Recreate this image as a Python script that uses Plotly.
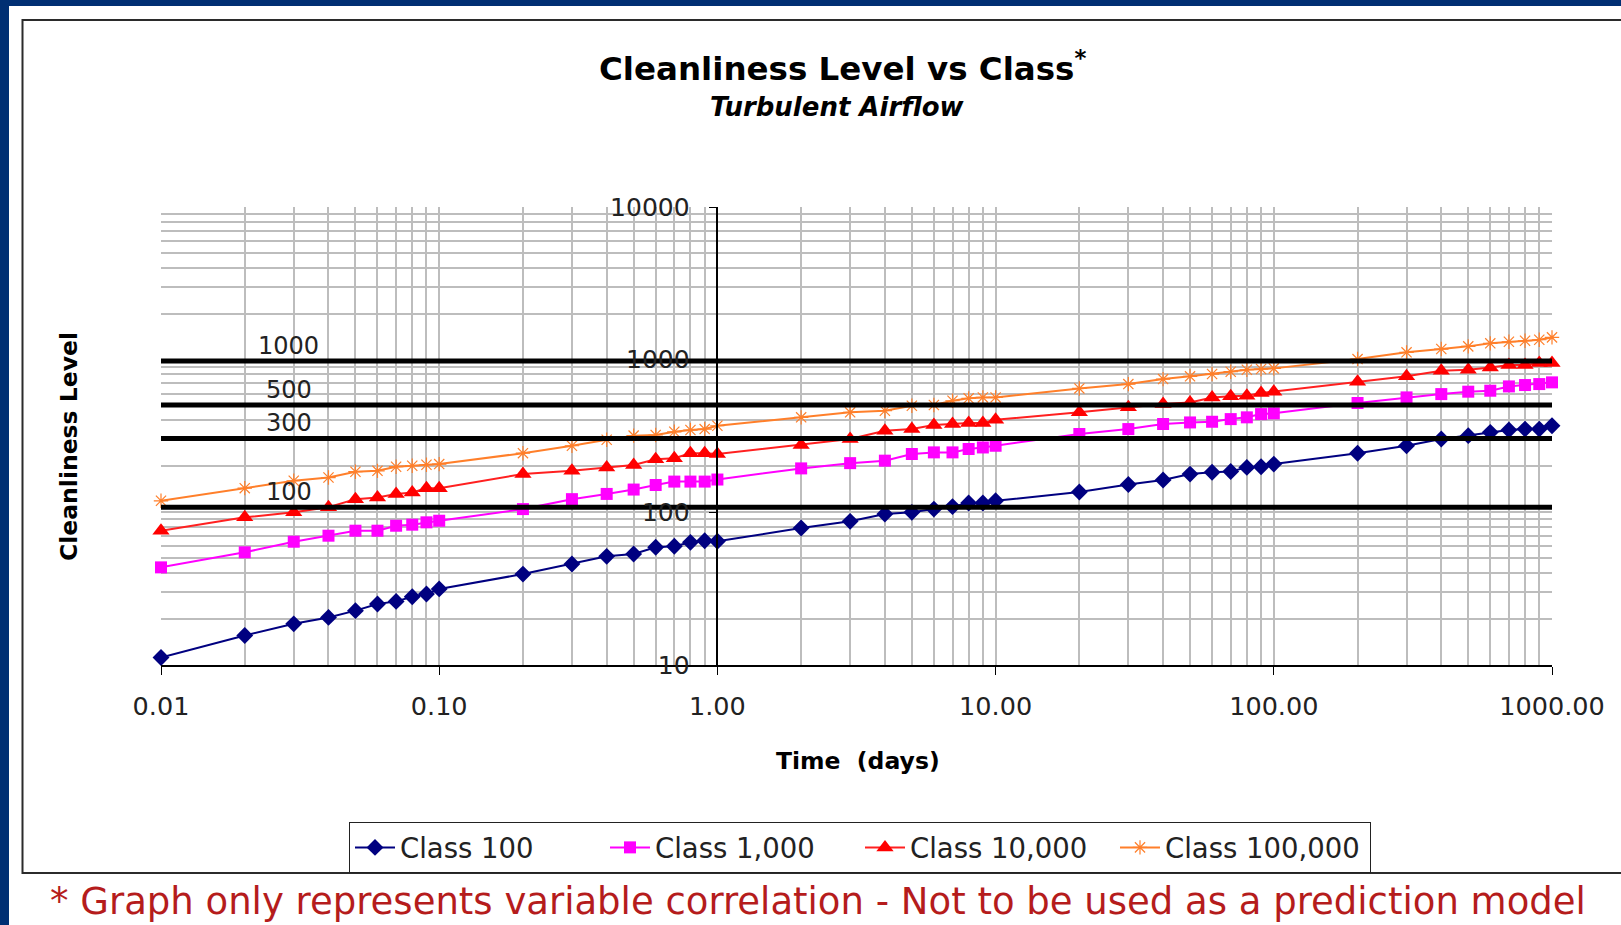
import numpy as np
import plotly.graph_objects as go

# ---------------- data ----------------
time_days = [0.01, 0.02, 0.03, 0.04, 0.05, 0.06, 0.07, 0.08, 0.09,
             0.1, 0.2, 0.3, 0.4, 0.5, 0.6, 0.7, 0.8, 0.9,
             1, 2, 3, 4, 5, 6, 7, 8, 9,
             10, 20, 30, 40, 50, 60, 70, 80, 90,
             100, 200, 300, 400, 500, 600, 700, 800, 900, 1000]

class_100 = [11.2, 15.6, 18.6, 20.5, 22.7, 25.1, 26.1, 28.0, 29.2,
             31.5, 39.4, 45.9, 51.5, 53.3, 59.0, 59.9, 63.6, 65.2,
             64.6, 78.9, 87.3, 97.5, 100, 105, 109, 115, 115,
             119, 136, 152, 163, 178, 183, 185, 197, 199,
             207, 244, 273, 302, 318, 334, 346, 351, 351, 369]

class_1000 = [43.6, 54.7, 64.2, 70.3, 75.8, 75.8, 81.7, 83.0, 86.0,
              88.1, 105, 122, 132, 141, 151, 159, 159, 159,
              164, 194, 210, 218, 241, 247, 247, 260, 266,
              273, 326, 351, 379, 388, 392, 408, 419, 440,
              445, 520, 566, 595, 617, 626, 668, 682, 692, 710]

class_10000 = [75.8, 92.7, 100, 108, 122, 125, 132, 135, 144,
               144, 178, 187, 197, 204, 223, 226, 244, 244,
               241, 276, 302, 342, 351, 373, 379, 385, 385,
               404, 452, 487, 512, 525, 566, 575, 581, 604,
               617, 717, 778, 846, 859, 890, 922, 922, 950, 950]

class_100000 = [119, 144, 161, 169, 184.5, 187, 199, 202, 205,
                207, 244, 273, 299, 318, 321, 337, 346, 351,
                369, 419, 452, 463, 499, 505, 538, 558, 566,
                566, 648, 692, 746, 778, 805, 834, 859, 868,
                877, 1009, 1117, 1174, 1222, 1279, 1310, 1330, 1350, 1400]

series_names = ["Class 100", "Class 1,000", "Class 10,000", "Class 100,000"]

threshold_levels = [980, 505, 305, 108]
threshold_labels = ["1000", "500", "300", "100"]
threshold_label_x = 0.0288

x_tick_vals = [0.01, 0.1, 1, 10, 100, 1000]
x_tick_text = ["0.01", "0.10", "1.00", "10.00", "100.00", "1000.00"]
y_tick_vals = [10, 100, 1000, 10000]
y_tick_text = ["10", "100", "1000", "10000"]

# ---------------- layout helpers ----------------
W, H = 1621, 925
PL, PR, PT, PB = 161, 1552, 207, 665


def px(x):
    return (x - PL) / (PR - PL)


def py(y):
    return (PB - y) / (PB - PT)


FONT = "DejaVu Sans"
NAVY = "#002f73"
GRID = "#bdbdbd"

minor_x = [m * 10.0 ** k for k in range(-2, 3) for m in range(2, 10)]
minor_y = [m * 10.0 ** k for k in range(1, 4) for m in range(2, 10)]

fig = go.Figure()

styles = [
    dict(line=dict(color="#000080", width=2),
         marker=dict(symbol="diamond", size=13, color="#000080")),
    dict(line=dict(color="#ff00ff", width=2),
         marker=dict(symbol="square", size=12, color="#ff00ff")),
    dict(line=dict(color="#ff2020", width=2),
         marker=dict(symbol="triangle-up", size=15, color="#ff0000")),
    dict(line=dict(color="#ff7f2a", width=2),
         marker=dict(symbol="asterisk-open", size=12,
                     line=dict(color="#ff6a00", width=1.2))),
]

for name, vals, st in zip(series_names,
                          [class_100, class_1000, class_10000, class_100000],
                          styles):
    fig.add_trace(go.Scatter(x=time_days, y=vals, mode="lines+markers",
                             name=name, line=st["line"], marker=st["marker"],
                             cliponaxis=False))

for lvl in threshold_levels:
    fig.add_trace(go.Scatter(x=[time_days[0], time_days[-1]], y=[lvl, lvl],
                             mode="lines", line=dict(color="black", width=5),
                             showlegend=False, hoverinfo="skip"))

shapes = [
    dict(type="rect", xref="paper", yref="paper",
         x0=px(9), x1=px(W + 10), y0=py(6), y1=py(H + 10),
         fillcolor="white", line=dict(width=0), layer="below"),
    dict(type="rect", xref="paper", yref="paper",
         x0=px(22.5), x1=px(W + 30), y0=py(20), y1=py(873),
         fillcolor="rgba(0,0,0,0)", line=dict(color="#2b2b2b", width=2),
         layer="below"),
]

annotations = [
    dict(text="<b>Cleanliness Level vs Class<sup>*</sup></b>", x=px(842), y=py(67),
         xref="paper", yref="paper", showarrow=False, xanchor="center", yanchor="middle",
         font=dict(family=FONT, size=32.5, color="black")),
    dict(text="<b><i>Turbulent Airflow</i></b>", x=px(837), y=py(107.5),
         xref="paper", yref="paper", showarrow=False, xanchor="center", yanchor="middle",
         font=dict(family=FONT, size=26, color="black")),
    dict(text="<b>Time\u00a0 (days)</b>", x=px(858), y=py(761),
         xref="paper", yref="paper", showarrow=False, xanchor="center", yanchor="middle",
         font=dict(family=FONT, size=23.5, color="black")),
    dict(text="<b>Cleanliness Level</b>", x=px(69), y=py(447), textangle=-90,
         xref="paper", yref="paper", showarrow=False, xanchor="center", yanchor="middle",
         font=dict(family=FONT, size=23.5, color="black")),
    dict(text="* Graph only represents variable correlation - Not to be used as a prediction model",
         x=px(818), y=py(925), xref="paper", yref="paper", showarrow=False,
         xanchor="center", yanchor="bottom",
         font=dict(family=FONT, size=37, color="#b51c1c")),
]
for lvl, lab in zip(threshold_levels, threshold_labels):
    annotations.append(dict(text=lab, x=np.log10(threshold_label_x), y=np.log10(lvl),
                            xref="x", yref="y", showarrow=False, yshift=15,
                            xanchor="center", yanchor="middle",
                            font=dict(family=FONT, size=24, color="#222222")))

fig.update_layout(
    width=W, height=H, autosize=False,
    margin=dict(l=PL, r=W - PR, t=PT, b=H - PB, pad=0),
    paper_bgcolor=NAVY, plot_bgcolor="white",
    font=dict(family=FONT, color="#222222"),
    shapes=shapes, annotations=annotations,
    showlegend=True,
    legend=dict(orientation="h", x=px(860), xanchor="center", y=py(822), yanchor="top",
                bgcolor="white", bordercolor="#222222", borderwidth=1,
                font=dict(family=FONT, size=27.5, color="#222222"),
                itemwidth=40, tracegroupgap=0, entrywidth=200, entrywidthmode="pixels"),
    xaxis=dict(type="log", range=[-2, 3], tickvals=x_tick_vals, ticktext=x_tick_text,
               showgrid=True, gridcolor=GRID, gridwidth=1.5,
               minor=dict(tickvals=minor_x, showgrid=True, gridcolor=GRID,
                          gridwidth=1.5, ticklen=0),
               showline=True, linecolor="black", linewidth=1.5,
               ticks="outside", ticklen=8, tickcolor="black",
               ticklabelstandoff=10,
               tickfont=dict(family=FONT, size=25.5, color="#222222"),
               zeroline=False, fixedrange=True),
    yaxis=dict(type="log", range=[1, 4], tickvals=y_tick_vals, ticktext=y_tick_text,
               anchor="free", position=0.4,
               showgrid=True, gridcolor=GRID, gridwidth=1.5,
               minor=dict(tickvals=minor_y, showgrid=True, gridcolor=GRID,
                          gridwidth=1.5, ticklen=0),
               showline=True, linecolor="black", linewidth=1.5,
               ticks="outside", ticklen=8, tickcolor="black",
               ticklabelstandoff=14,
               tickfont=dict(family=FONT, size=25, color="#222222"),
               zeroline=False, fixedrange=True),
)

fig.write_html("out.html", config={"displayModeBar": False},
               post_script="document.body.style.margin='0';document.body.style.overflow='hidden';")
